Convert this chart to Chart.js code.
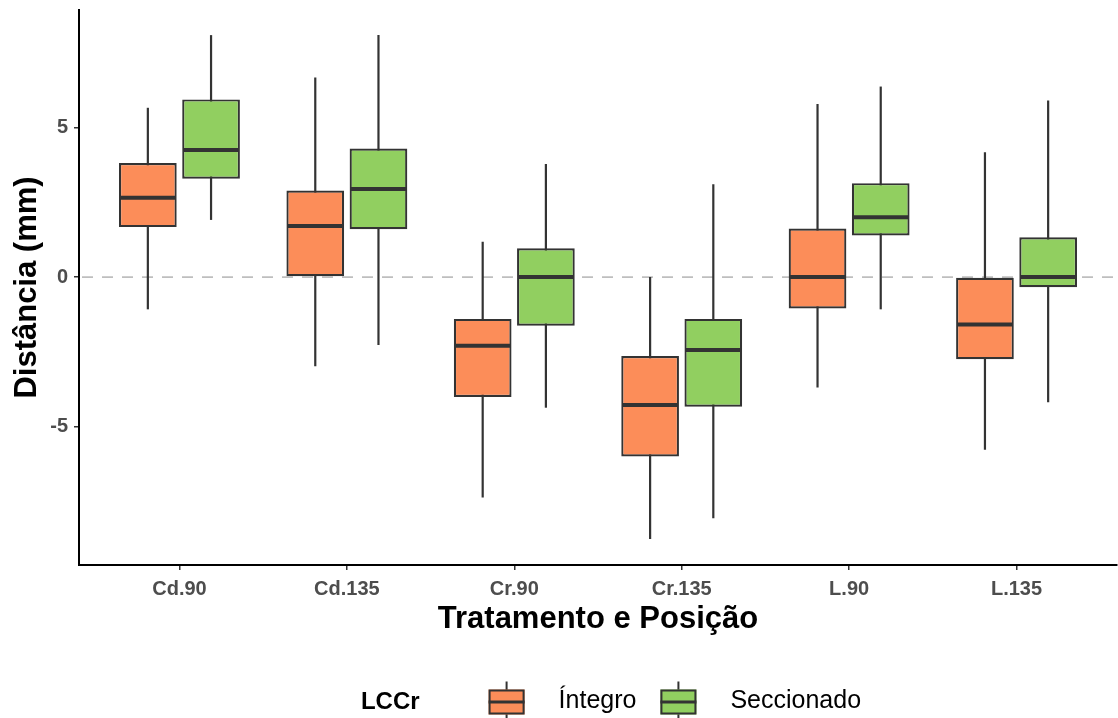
<!DOCTYPE html>
<html>
<head>
<meta charset="utf-8">
<script src="https://cdn.jsdelivr.net/npm/chart.js@4"></script>
<style>
  html, body { margin: 0; padding: 0; background: #ffffff; }
</style>
</head>
<body>
<canvas id="boxChart" width="1118" height="718"></canvas>
<script>
// categories on the x axis
const categories = ['Cd.90', 'Cd.135', 'Cr.90', 'Cr.135', 'L.90', 'L.135'];
const seriesNames = ['Íntegro', 'Seccionado'];
const legendTitle = 'LCCr';
const yTicks = [-5, 0, 5];

// Íntegro: whisker ends, quartiles, median
const integroMin = [-1.08, -2.98, -7.37, -8.76, -3.69, -5.78];
const integroQ1 = [1.67, 0.00, -4.01, -6.00, -1.05, -2.75];
const integroMedian = [2.65, 1.71, -2.30, -4.28, 0.00, -1.59];
const integroQ3 = [3.81, 2.89, -1.40, -2.64, 1.62, 0.00];
const integroMax = [5.66, 6.67, 1.18, 0.00, 5.79, 4.17];

// Seccionado
const seccMin = [1.91, -2.27, -4.37, -8.07, -1.08, -4.19];
const seccQ1 = [3.29, 1.60, -1.63, -4.34, 1.39, -0.34];
const seccMedian = [4.25, 2.94, 0.00, -2.44, 2.00, 0.00];
const seccQ3 = [5.94, 4.30, 0.96, -1.40, 3.14, 1.33];
const seccMax = [8.09, 8.09, 3.78, 3.10, 6.37, 5.90];

const FONT = '"Liberation Sans", Arial, sans-serif';
const LINE = '#333333';
const COLORS = ['#FC8D59', '#91CF60'];

Chart.defaults.font.family = FONT;

function boxData(q1, q3) {
    return categories.map((c, i) => ({ x: i + 1, y: [q1[i], q3[i]] }));
}

// whiskers, medians, zero line and the legend are drawn here
const boxPlotExtras = {
    id: 'boxPlotExtras',
    beforeDatasetsDraw(chart) {
        const { ctx, chartArea } = chart;
        const y = chart.scales.y;
        const y0 = y.getPixelForValue(0);
        ctx.save();
        ctx.strokeStyle = '#BEBEBE';
        ctx.lineWidth = 1.8;
        ctx.setLineDash([11, 9]);
        ctx.beginPath();
        ctx.moveTo(chartArea.left + 3, y0);
        ctx.lineTo(chartArea.right, y0);
        ctx.stroke();
        ctx.restore();

        ctx.save();
        ctx.strokeStyle = LINE;
        ctx.lineWidth = 2.2;
        chart.data.datasets.forEach((ds, di) => {
            chart.getDatasetMeta(di).data.forEach((bar, i) => {
                ctx.beginPath();
                ctx.moveTo(bar.x, y.getPixelForValue(ds.low[i]));
                ctx.lineTo(bar.x, y.getPixelForValue(ds.high[i]));
                ctx.stroke();
            });
        });
        ctx.restore();
    },
    afterDatasetsDraw(chart) {
        const ctx = chart.ctx;
        const y = chart.scales.y;
        ctx.save();
        ctx.strokeStyle = LINE;
        ctx.lineWidth = 4;
        chart.data.datasets.forEach((ds, di) => {
            chart.getDatasetMeta(di).data.forEach((bar, i) => {
                const py = y.getPixelForValue(ds.median[i]);
                ctx.beginPath();
                ctx.moveTo(bar.x - bar.width / 2 + 1, py);
                ctx.lineTo(bar.x + bar.width / 2 - 1, py);
                ctx.stroke();
            });
        });
        ctx.restore();
    },
    afterDraw(chart) {
        const { ctx, chartArea } = chart;
        const keyW = 36, keyH = 25;
        const keyY = chart.height - 16;
        const textY = chart.height - 17;
        ctx.save();
        ctx.font = 'bold 24px ' + FONT;
        const wTitle = ctx.measureText(legendTitle).width;
        ctx.font = '25px ' + FONT;
        const wLabels = seriesNames.map(n => ctx.measureText(n).width);
        const gapTitle = 69, gapKey = 34, gapItem = 24;
        const total = wTitle + gapTitle + (keyW + gapKey) * 2 + wLabels[0] + gapItem + wLabels[1];
        let x = (chartArea.left + chartArea.right) / 2 + 13 - total / 2;

        ctx.fillStyle = '#000000';
        ctx.textBaseline = 'middle';
        ctx.font = 'bold 24px ' + FONT;
        ctx.fillText(legendTitle, x, textY + 1);
        x += wTitle + gapTitle;

        seriesNames.forEach((name, i) => {
            const cx = x + keyW / 2;
            ctx.strokeStyle = LINE;
            ctx.lineWidth = 2;
            ctx.beginPath();
            ctx.moveTo(cx, keyY - keyH / 2 - 8);
            ctx.lineTo(cx, keyY + keyH / 2 + 8);
            ctx.stroke();
            ctx.fillStyle = COLORS[i];
            ctx.fillRect(x, keyY - keyH / 2, keyW, keyH);
            ctx.strokeRect(x + 1, keyY - keyH / 2 + 1, keyW - 2, keyH - 2);
            ctx.lineWidth = 3;
            ctx.beginPath();
            ctx.moveTo(x, keyY);
            ctx.lineTo(x + keyW, keyY);
            ctx.stroke();

            x += keyW + gapKey;
            ctx.fillStyle = '#000000';
            ctx.font = '25px ' + FONT;
            ctx.fillText(name, x, textY);
            x += wLabels[i] + gapItem;
        });
        ctx.restore();
    }
};

new Chart(document.getElementById('boxChart'), {
    type: 'bar',
    data: {
        datasets: [
            {
                label: seriesNames[0],
                data: boxData(integroQ1, integroQ3),
                low: integroMin,
                high: integroMax,
                median: integroMedian,
                backgroundColor: COLORS[0]
            },
            {
                label: seriesNames[1],
                data: boxData(seccQ1, seccQ3),
                low: seccMin,
                high: seccMax,
                median: seccMedian,
                backgroundColor: COLORS[1]
            }
        ]
    },
    options: {
        responsive: false,
        animation: false,
        layout: { padding: { top: 10, right: 1, bottom: 80, left: 0 } },
        datasets: {
            bar: {
                categoryPercentage: 0.755,
                barPercentage: 0.913,
                borderWidth: 2.2,
                borderColor: LINE,
                borderSkipped: false
            }
        },
        plugins: {
            legend: { display: false },
            tooltip: { enabled: false }
        },
        scales: {
            x: {
                type: 'linear',
                min: 0.4,
                max: 6.6,
                offset: false,
                afterFit: (scale) => {
                    scale.height = 73;
                    scale.paddingLeft = 0;
                    scale.paddingRight = 0;
                },
                ticks: {
                    stepSize: 1,
                    includeBounds: false,
                    autoSkip: false,
                    maxRotation: 0,
                    padding: 7,
                    color: '#4D4D4D',
                    font: { size: 20, weight: 'bold' },
                    callback: (v) => categories[Math.round(v) - 1]
                },
                grid: {
                    display: true,
                    offset: false,
                    drawOnChartArea: false,
                    drawTicks: true,
                    tickLength: 5,
                    color: LINE,
                    lineWidth: 1.5
                },
                border: { display: true, color: '#000000', width: 2 },
                title: {
                    display: true,
                    text: 'Tratamento e Posição',
                    color: '#000000',
                    font: { size: 31, weight: 'bold' },
                    padding: { top: 0, bottom: 0 }
                }
            },
            y: {
                min: -9.63,
                max: 8.93,
                afterFit: (scale) => {
                    scale.width = 79;
                    scale.paddingTop = 0;
                    scale.paddingBottom = 0;
                },
                afterBuildTicks: (scale) => { scale.ticks = yTicks.map(v => ({ value: v })); },
                ticks: {
                    padding: 6,
                    color: '#4D4D4D',
                    font: { size: 20, weight: 'bold' }
                },
                grid: {
                    display: true,
                    drawOnChartArea: false,
                    drawTicks: true,
                    tickLength: 5,
                    color: LINE,
                    lineWidth: 1.5
                },
                border: { display: true, color: '#000000', width: 2 },
                title: {
                    display: true,
                    text: 'Distância (mm)',
                    color: '#000000',
                    font: { size: 31, weight: 'bold' },
                    padding: { top: 9, bottom: 0 }
                }
            }
        }
    },
    plugins: [boxPlotExtras]
});
</script>
</body>
</html>
